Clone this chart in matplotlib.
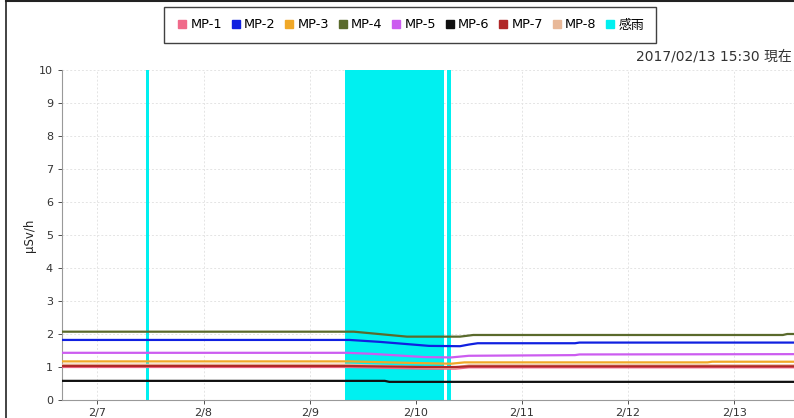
import matplotlib
matplotlib.use("Agg")
import matplotlib.pyplot as plt
import matplotlib.dates as mdates
from matplotlib.lines import Line2D
import pandas as pd

plt.rcParams['font.family'] = ['DejaVu Sans', 'Noto Sans CJK JP']

# ---- data ----
series_names = ["MP-1", "MP-2", "MP-3", "MP-4", "MP-5", "MP-6", "MP-7", "MP-8"]
series_colors = ["#f06a8a", "#1020e0", "#f0a828", "#5a6a2c", "#cc5cf0", "#101010", "#b02828", "#e8b898"]

mp1_t = ["2017-02-06 15:30", "2017-02-09 09:00", "2017-02-10 02:00", "2017-02-10 09:00", "2017-02-10 12:00", "2017-02-13 15:30"]
mp1_v = [1.00, 1.00, 0.95, 0.95, 0.99, 0.99]
mp2_t = ["2017-02-06 15:30", "2017-02-09 09:00", "2017-02-09 16:00", "2017-02-10 03:00", "2017-02-10 10:00", "2017-02-10 12:00", "2017-02-10 14:00", "2017-02-11 12:00", "2017-02-11 13:00", "2017-02-13 15:30"]
mp2_v = [1.82, 1.82, 1.76, 1.64, 1.63, 1.68, 1.72, 1.72, 1.74, 1.74]
mp3_t = ["2017-02-06 15:30", "2017-02-09 09:00", "2017-02-10 00:00", "2017-02-10 08:00", "2017-02-10 11:00", "2017-02-12 18:00", "2017-02-12 19:00", "2017-02-13 15:30"]
mp3_v = [1.17, 1.17, 1.12, 1.10, 1.14, 1.14, 1.16, 1.16]
mp4_t = ["2017-02-06 15:30", "2017-02-09 10:00", "2017-02-09 22:00", "2017-02-10 10:00", "2017-02-10 13:00", "2017-02-13 11:00", "2017-02-13 12:00", "2017-02-13 15:30"]
mp4_v = [2.07, 2.07, 1.92, 1.92, 1.97, 1.97, 2.00, 2.00]
mp5_t = ["2017-02-06 15:30", "2017-02-09 08:30", "2017-02-09 14:00", "2017-02-10 02:00", "2017-02-10 08:00", "2017-02-10 12:00", "2017-02-11 12:00", "2017-02-11 13:00", "2017-02-13 15:30"]
mp5_v = [1.43, 1.43, 1.40, 1.30, 1.29, 1.34, 1.36, 1.38, 1.39]
mp6_t = ["2017-02-06 15:30", "2017-02-09 17:00", "2017-02-09 18:00", "2017-02-13 15:30"]
mp6_v = [0.58, 0.58, 0.55, 0.55]
mp7_t = ["2017-02-06 15:30", "2017-02-09 09:00", "2017-02-10 02:00", "2017-02-10 09:00", "2017-02-10 12:00", "2017-02-13 15:30"]
mp7_v = [1.03, 1.03, 1.00, 1.00, 1.02, 1.02]
mp8_t = ["2017-02-06 15:30", "2017-02-09 09:00", "2017-02-10 02:00", "2017-02-10 09:00", "2017-02-10 12:00", "2017-02-13 15:30"]
mp8_v = [1.07, 1.07, 0.99, 0.98, 1.05, 1.05]

rain_start = ["2017-02-07 11:00", "2017-02-09 08:05", "2017-02-10 07:00"]
rain_end = ["2017-02-07 11:40", "2017-02-10 06:20", "2017-02-10 08:00"]

xtick_dates = ["2017-02-07", "2017-02-08", "2017-02-09", "2017-02-10", "2017-02-11", "2017-02-12", "2017-02-13"]
xtick_labels = ["2/7", "2/8", "2/9", "2/10", "2/11", "2/12", "2/13"]
yticks = [0, 1, 2, 3, 4, 5, 6, 7, 8, 9, 10]

series_t = [mp1_t, mp2_t, mp3_t, mp4_t, mp5_t, mp6_t, mp7_t, mp8_t]
series_v = [mp1_v, mp2_v, mp3_v, mp4_v, mp5_v, mp6_v, mp7_v, mp8_v]
draw_order = [5, 0, 7, 6, 2, 4, 1, 3]

# ---- figure ----
fig = plt.figure(figsize=(7.94, 4.18), dpi=100)
ax = fig.add_axes([62/794, 18/418, 740/794, 330/418])
ax.set_axisbelow(True)

rain_color = "#00f0f0"
for s, e in zip(rain_start, rain_end):
    ax.axvspan(pd.Timestamp(s), pd.Timestamp(e), color=rain_color, lw=0, zorder=1)

for i in draw_order:
    ax.plot(pd.to_datetime(series_t[i]), series_v[i], color=series_colors[i], lw=1.6, zorder=3)

ax.set_xlim(pd.Timestamp("2017-02-06 16:00"), pd.Timestamp("2017-02-13 15:20"))
ax.set_ylim(0, 10)
ax.set_yticks(yticks)
ax.set_xticks(pd.to_datetime(xtick_dates))
ax.set_xticklabels(xtick_labels)
ax.tick_params(axis='both', labelsize=8, colors='#333333', length=3, width=0.6)
ax.tick_params(axis='x', pad=3)
ax.grid(True, color='#e4e4e4', linestyle=(0, (2, 2)), lw=0.7, zorder=0)
for sp in ['top', 'right']:
    ax.spines[sp].set_visible(False)
for sp in ['left', 'bottom']:
    ax.spines[sp].set_color('#999999')
    ax.spines[sp].set_linewidth(0.8)
ax.set_ylabel("μSv/h", fontsize=8.5, color='#222222')
ax.yaxis.set_label_coords(-(62 - 36) / 740, 0.5)

# legend
handles = [Line2D([], [], marker='s', linestyle='none', markersize=6, color=c) for c in series_colors]
handles.append(Line2D([], [], marker='s', linestyle='none', markersize=6, color=rain_color))
labels = series_names + ["感雨"]
leg = fig.legend(handles, labels, loc='center', bbox_to_anchor=(410/794, 1 - 25/418), ncol=9,
                 fontsize=9.3, frameon=True, fancybox=False, edgecolor='#111111',
                 handletextpad=0.15, columnspacing=0.55, handlelength=1.0,
                 borderpad=0.9, borderaxespad=0)
leg.get_frame().set_linewidth(1.0)

fig.text(636/794, 1 - 57/418, "2017/02/13 15:30 現在", fontsize=10, color='#333333', va='center', ha='left')

# outer frame lines
fig.add_artist(Line2D([6/794, 6/794], [0, 1], transform=fig.transFigure, color='#222222', lw=1.2))
fig.add_artist(Line2D([6/794, 1], [1 - 1/418, 1 - 1/418], transform=fig.transFigure, color='#222222', lw=1.5))

fig.savefig("out.png", dpi=100)
